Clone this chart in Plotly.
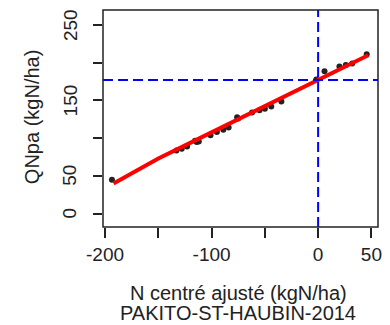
import plotly.graph_objects as go

# Observed points (black)
obs_x = [-193.5, -133, -128, -123, -115.5, -114, -112, -101, -95, -89, -84, -76, -75, -62, -55, -50, -44, -34.5, -1.7, 6, 20, 26, 32, 45.6]
obs_y = [44.8, 83.5, 86, 89, 96.5, 94.8, 95.7, 104, 108, 111, 114, 127.6, 125.9, 134, 137, 139, 142, 148.5, 177.8, 188.8, 195, 197, 199, 211.2]

# Fitted curve (red)
fit_x = [-192, -150, -111, -75, -50, 0, 47]
fit_y = [40, 73, 100, 125, 142, 176.5, 210]

# Reference lines
h_ref = 177
v_ref = 0

x_ticks = [-200, -150, -100, -50, 0, 50]
x_ticktext = ["-200", "", "-100", "", "0", "50"]
y_ticks = [0, 50, 100, 150, 200, 250]
y_ticktext = ["0", "50", "", "150", "", "250"]

x_title = "N centré ajusté (kgN/ha)"
subtitle = "PAKITO-ST-HAUBIN-2014"
y_title = "QNpa (kgN/ha)"

font_family = "Liberation Sans, Arial, sans-serif"

# page body has an 8px margin: plot box target in window px is x 103..378, y 10..226.7
OFF = 8
L, R, T, B = 103, 378, 10, 226.7
W, H = 390 - OFF, 325 - OFF
pw, ph = R - L, B - T

fig = go.Figure()
fig.add_trace(go.Scatter(x=obs_x, y=obs_y, mode="markers",
                         marker=dict(color="#222222", size=6), showlegend=False))
fig.add_trace(go.Scatter(x=fit_x, y=fit_y, mode="lines",
                         line=dict(color="#ff0000", width=4), showlegend=False))

fig.add_shape(type="line", xref="paper", yref="y", x0=0, x1=1, y0=h_ref, y1=h_ref,
              line=dict(color="#0000ff", width=2, dash="10px,5px"), layer="above")
fig.add_shape(type="line", xref="x", yref="paper", x0=v_ref, x1=v_ref, y0=0, y1=1,
              line=dict(color="#0000ff", width=2, dash="10px,5px"), layer="above")
fig.add_shape(type="rect", xref="paper", yref="paper", x0=0, x1=1, y0=0, y1=1,
              line=dict(color="#222222", width=1.5), layer="above")

annotations = [
    dict(text=x_title, xref="paper", yref="paper", x=(238 - L) / pw, y=-(293 - B) / ph,
         xanchor="center", yanchor="middle", showarrow=False, font=dict(size=20, color="#222222")),
    dict(text=subtitle, xref="paper", yref="paper", x=(237.5 - L) / pw, y=-(313 - B) / ph,
         xanchor="center", yanchor="middle", showarrow=False, font=dict(size=20, color="#222222")),
    dict(text=y_title, xref="paper", yref="paper", x=-(L - 32) / pw, y=(B - 117) / ph,
         xanchor="center", yanchor="middle", textangle=-90, showarrow=False,
         font=dict(size=20, color="#222222")),
]
for v, t in zip(y_ticks, y_ticktext):
    if t:
        annotations.append(dict(text=t, xref="paper", yref="y", x=-(L - 70) / pw, y=v,
                                xanchor="center", yanchor="middle", textangle=-90, showarrow=False,
                                font=dict(size=19, color="#222222")))

fig.update_layout(
    width=W, height=H,
    margin=dict(l=L - OFF, r=390 - R, t=T - OFF, b=325 - B),
    paper_bgcolor="white", plot_bgcolor="white",
    font=dict(family=font_family, color="#222222"),
    xaxis=dict(range=[-201.9, 56.2], tickvals=x_ticks, ticktext=x_ticktext,
               ticks="outside", ticklen=10, tickwidth=1.5, tickcolor="#222222",
               showgrid=False, zeroline=False, showline=False,
               tickfont=dict(size=19, color="#222222")),
    yaxis=dict(range=[-17.8, 269.9], tickvals=y_ticks, showticklabels=False,
               ticks="outside", ticklen=9, tickwidth=1.5, tickcolor="#222222",
               showgrid=False, zeroline=False, showline=False),
    annotations=annotations,
)

fig.write_html("out.html")
